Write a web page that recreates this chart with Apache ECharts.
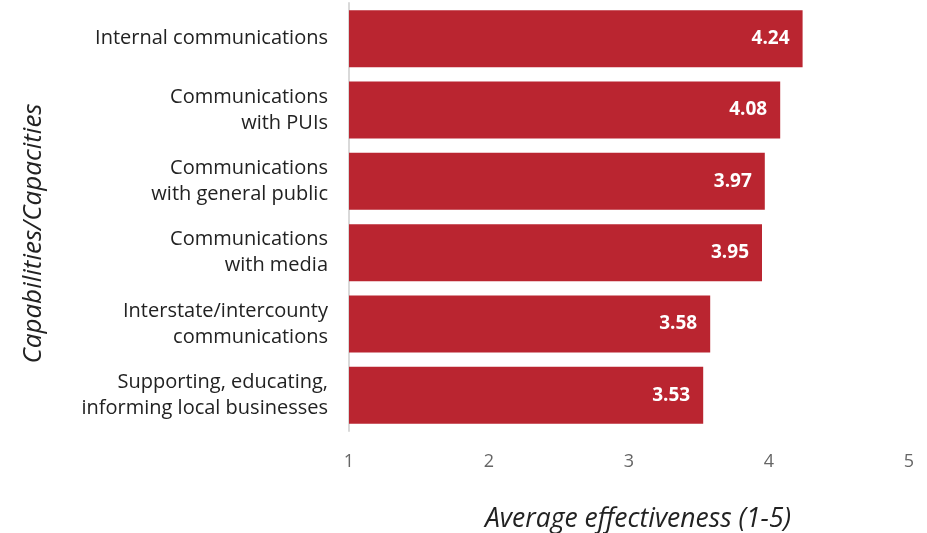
<!DOCTYPE html>
<html>
<head>
<meta charset="utf-8">
<script src="https://cdn.jsdelivr.net/npm/echarts@6/dist/echarts.min.js"></script>
<style>
  html, body { margin: 0; padding: 0; background: #fff; }
  #chart { width: 927px; height: 533px; }
</style>
</head>
<body>
<div id="chart"></div>
<script>
// Capabilities rated by average effectiveness on a 1-5 scale
const categories = [
  'Internal communications',
  'Communications\nwith PUIs',
  'Communications\nwith general public',
  'Communications\nwith media',
  'Interstate/intercounty\ncommunications',
  'Supporting, educating,\ninforming local businesses'
];
const effectiveness = [4.24, 4.08, 3.97, 3.95, 3.58, 3.53];
const xTicks = [1, 2, 3, 4, 5];

const FONT = '"Open Sans", "Noto Sans", sans-serif';

const chart = echarts.init(document.getElementById('chart'));
chart.setOption({
  animation: false,
  textStyle: { fontFamily: FONT },
  grid: { left: 349, right: 18, top: 3, bottom: 102, containLabel: false, outerBoundsMode: 'none' },
  xAxis: {
    type: 'value',
    min: xTicks[0],
    max: xTicks[xTicks.length - 1],
    interval: 1,
    axisLine: { show: false },
    axisTick: { show: false },
    splitLine: { show: false },
    axisLabel: { color: '#666', fontSize: 18, margin: 22, fontFamily: FONT },
    name: 'Average effectiveness (1-5)',
    nameLocation: 'middle',
    nameGap: 75,
    nameTextStyle: { fontSize: 26.5, fontStyle: 'italic', color: '#222', fontFamily: FONT, padding: [0, 0, 0, 18] }
  },
  yAxis: {
    type: 'category',
    data: categories,
    inverse: true,
    axisLine: { show: true, lineStyle: { color: '#d9d9d9', width: 2 } },
    axisTick: { show: false },
    axisLabel: { color: '#222', fontSize: 20, lineHeight: 26, margin: 21, align: 'right', fontFamily: FONT },
    name: 'Capabilities/Capacities',
    nameLocation: 'middle',
    nameGap: 302,
    nameRotate: 90,
    nameTextStyle: { fontSize: 26, fontStyle: 'italic', color: '#222', fontFamily: FONT, padding: [0, 0, 0, -33] }
  },
  series: [{
    type: 'bar',
    data: effectiveness,
    barCategoryGap: '20%',
    itemStyle: { color: '#BA2530' },
    label: {
      show: true,
      position: 'insideRight',
      distance: 13,
      color: '#fff',
      fontWeight: 'bold',
      fontSize: 19,
      fontFamily: FONT,
      formatter: p => p.value.toFixed(2)
    }
  }]
});
</script>
</body>
</html>
